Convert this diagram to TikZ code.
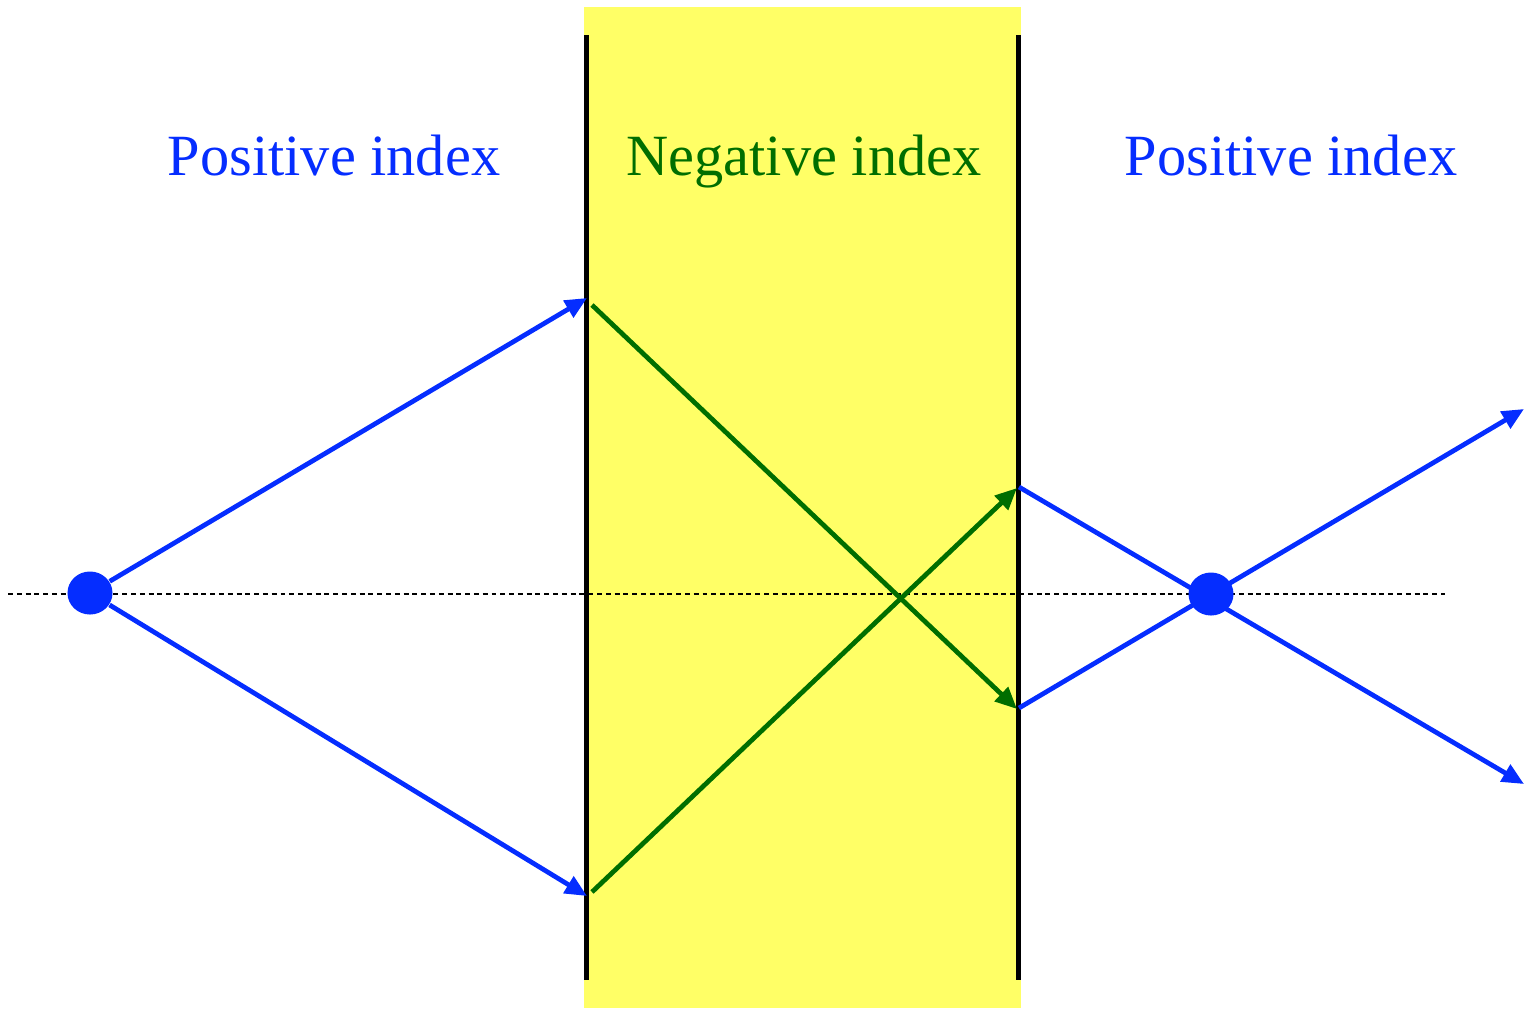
\documentclass[tikz,border=0pt]{standalone}
\usepackage{fontspec}
\setmainfont{Liberation Serif}
\usetikzlibrary{arrows.meta,shapes.geometric}
\pgfdeclarelayer{front}
\pgfsetlayers{main,front}
\definecolor{rayblue}{RGB}{5,45,255}
\definecolor{raygreen}{RGB}{0,110,0}
\definecolor{slabyellow}{RGB}{255,255,102}
\tikzset{
  x=0.01cm, y=-0.01cm,
  bluray/.style={draw=rayblue, line width=1.35pt},
  grnray/.style={draw=raygreen, line width=1.35pt},
  tipb/.style={-{Triangle[length=6.2pt,width=5.4pt]}},
  iface/.style={draw=black, line width=1.35pt},
  axis/.style={draw=black, line width=0.6pt, dash pattern=on 1.4pt off 1.1pt},
  dot/.style={ellipse, fill=rayblue, inner sep=0pt, minimum width=0.45cm, minimum height=0.43cm},
  lbl/.style={font=\fontsize{16.6}{20}\selectfont, inner sep=0pt, anchor=base},
}
\begin{document}
\begin{tikzpicture}
\useasboundingbox (0,0) rectangle (1524,1008);
% slab
\fill[slabyellow] (584,7) rectangle (1021,1008);
% axis
\coordinate (AxL) at (8,594);
\coordinate (AxR) at (1445,594);
\draw[axis] (AxL) -- (AxR);
% interfaces
\coordinate (L1) at (586.5,35);
\coordinate (L2) at (586.5,980);
\coordinate (R1) at (1018.5,35);
\coordinate (R2) at (1018.5,980);
\draw[iface] (L1) -- (L2);
\draw[iface] (R1) -- (R2);
% labels
\node[lbl, text=rayblue] (tl) at (334,175) {Positive index};
\node[lbl, text=raygreen] (tm) at (804,175) {Negative index};
\node[lbl, text=rayblue] (tr) at (1291,175) {Positive index};
% points
\begin{pgfonlayer}{front}
\node[dot] (S) at (90,593) {};
\node[dot] (I) at (1211,594) {};
\end{pgfonlayer}
\coordinate (A1) at (587,298);
\coordinate (A2) at (587,896);
\coordinate (G1) at (592,305);
\coordinate (G2) at (592,892);
\coordinate (B1) at (1017,488);
\coordinate (B2) at (1017,709);
\coordinate (C1) at (1019,487);
\coordinate (C2) at (1019,708);
\coordinate (T1) at (1524,409);
\coordinate (T2) at (1524,784);
% blue rays in first medium
\draw[bluray, tipb] (S) -- (A1);
\draw[bluray, tipb] (S) -- (A2);
% green rays in slab
\draw[grnray, tipb] (G1) -- (B2);
\draw[grnray, tipb] (G2) -- (B1);
% blue rays in last medium
\draw[bluray, tipb] (C1) -- (T2);
\draw[bluray, tipb] (C2) -- (T1);
\end{tikzpicture}
\end{document}
